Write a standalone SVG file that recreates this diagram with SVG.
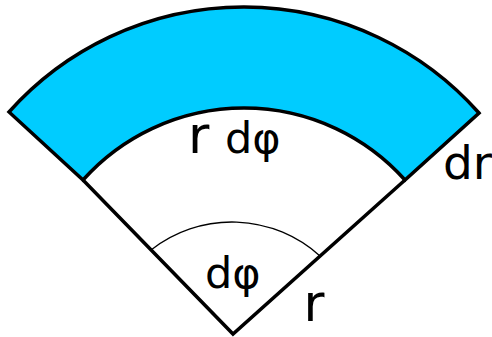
<svg xmlns="http://www.w3.org/2000/svg" width="492" height="337" viewBox="0 0 492 337">
<style>
.edge{fill:none;stroke:#000;stroke-width:3.5;stroke-linejoin:miter;stroke-linecap:butt}
.band{fill:#00CCFF;stroke:#000;stroke-width:3.5;stroke-linejoin:miter}
.thin{fill:none;stroke:#000;stroke-width:1.3}
text{font-family:"DejaVu Sans","Liberation Sans",sans-serif;fill:#000}
</style>
<rect width="492" height="337" fill="#fff"/>
<g id="band">
<path class="band" d="M 9 112 A 314.5 314.5 0 0 1 479 113 L 405 180 A 216 216 0 0 0 83 180 Z"/>
</g>
<g id="connectors">
<polyline class="edge" points="83,180 233,334 405,180"/>
<path class="thin" d="M 151 250 A 131 131 0 0 1 320 256"/>
</g>
<g id="labels">
<text id="label-rdphi" y="153"><tspan x="188" font-size="52">r</tspan><tspan x="225" font-size="43">dφ</tspan></text>
<text id="label-dr" x="443" y="179" font-size="47">dr</text>
<text id="label-dphi" x="205" y="288" font-size="43">dφ</text>
<text id="label-r" x="303.5" y="321" font-size="51">r</text>
</g>
</svg>
